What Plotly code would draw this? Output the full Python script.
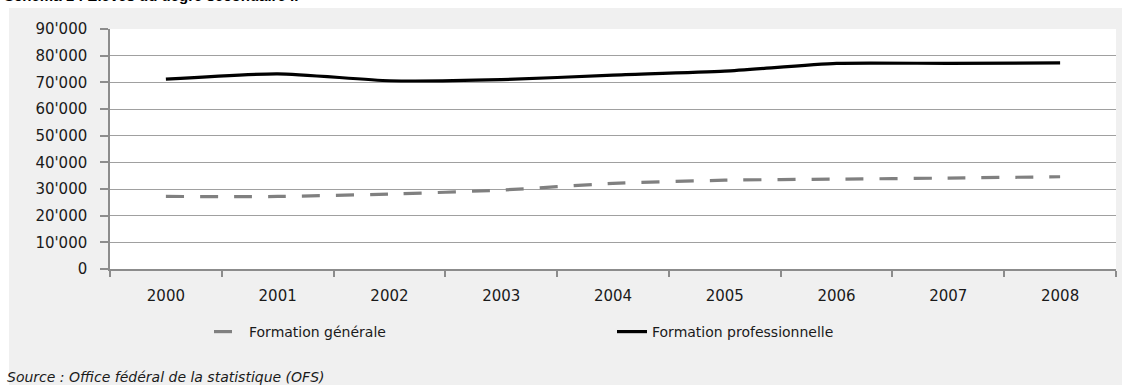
import plotly.graph_objects as go

years = ["2000", "2001", "2002", "2003", "2004", "2005", "2006", "2007", "2008"]
formation_generale = [27200, 27200, 28100, 29600, 32100, 33300, 33700, 34100, 34600]
formation_professionnelle = [71200, 73200, 70600, 71000, 72700, 74200, 77100, 77100, 77300]
ytick_vals = [0, 10000, 20000, 30000, 40000, 50000, 60000, 70000, 80000, 90000]
ytick_text = ["0", "10'000", "20'000", "30'000", "40'000", "50'000", "60'000", "70'000", "80'000", "90'000"]
title_text = "Schéma 1 : Élèves du degré secondaire II"
source_text = "Source : Office fédéral de la statistique (OFS)"

W, H = 1130, 385
L, R, T, B = 110, 14, 29, 116
pw, ph = W - L - R, H - T - B

def px_x(x):
    return (x - L) / pw

def px_y(y):
    return (H - B - y) / ph

FONT = "DejaVu Sans"
TXT = "#1a1a1a"

fig = go.Figure()
fig.add_trace(go.Scatter(
    x=years, y=formation_generale, name="Formation générale", mode="lines",
    line=dict(color="#808080", width=3.2, dash="18px,16px", shape="spline", smoothing=0.6),
))
fig.add_trace(go.Scatter(
    x=years, y=formation_professionnelle, name="Formation professionnelle", mode="lines",
    line=dict(color="#000000", width=3.2, shape="spline", smoothing=0.6),
))

fig.update_layout(
    width=W, height=H,
    margin=dict(l=L, r=R, t=T, b=B, pad=0),
    paper_bgcolor="#f0f0f0",
    plot_bgcolor="#ffffff",
    font=dict(family=FONT, size=15, color=TXT),
    showlegend=True,
    legend=dict(
        orientation="h", x=px_x(209), xanchor="left", y=px_y(332), yanchor="middle",
        bgcolor="rgba(0,0,0,0)", entrywidth=358, entrywidthmode="pixels",
        font=dict(family=FONT, size=14, color=TXT),
    ),
    xaxis=dict(
        type="category", range=[-0.5, 8.5], showgrid=False,
        showline=True, linecolor="#8c8c8c", linewidth=1.5,
        ticks="outside", tickson="boundaries", ticklen=6, tickcolor="#8c8c8c", tickwidth=1.5,
        ticklabelstandoff=12, tickfont=dict(size=15, color=TXT),
        zeroline=False,
    ),
    yaxis=dict(
        range=[0, 90000], tickvals=ytick_vals, ticktext=ytick_text,
        showgrid=True, gridcolor="#a0a0a0", gridwidth=1.2,
        showline=True, linecolor="#8c8c8c", linewidth=1.5,
        ticks="outside", ticklen=8, tickcolor="#8c8c8c", tickwidth=1.5,
        ticklabelstandoff=10, tickfont=dict(size=15, color=TXT),
        zeroline=False,
    ),
    shapes=[
        dict(type="rect", xref="paper", yref="paper", x0=px_x(0), x1=px_x(W), y0=px_y(8), y1=px_y(-5),
             fillcolor="#ffffff", line=dict(width=0), layer="below"),
        dict(type="rect", xref="paper", yref="paper", x0=px_x(-5), x1=px_x(9), y0=px_y(H + 5), y1=px_y(-5),
             fillcolor="#ffffff", line=dict(width=0), layer="below"),
        dict(type="rect", xref="paper", yref="paper", x0=px_x(1122), x1=px_x(W + 5), y0=px_y(H + 5), y1=px_y(-5),
             fillcolor="#ffffff", line=dict(width=0), layer="below"),
    ],
    annotations=[
        dict(text=source_text, xref="paper", yref="paper", x=px_x(5), y=px_y(377),
             xanchor="left", yanchor="middle", showarrow=False,
             font=dict(family=FONT, size=14, color=TXT, style="italic")),
        dict(text="<b>" + title_text + "</b>", xref="paper", yref="paper", x=px_x(2), y=px_y(6),
             xanchor="left", yanchor="bottom", showarrow=False,
             font=dict(family="Liberation Sans", size=15, color="#000000")),
    ],
)

fig.write_html("out.html")
